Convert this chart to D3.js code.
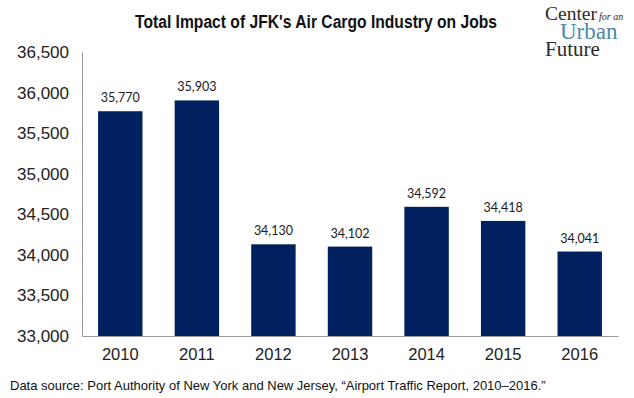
<!DOCTYPE html>
<html>
<head>
<meta charset="utf-8">
<script src="https://cdn.jsdelivr.net/npm/d3@7"></script>
<style>
  body { margin: 0; background: #fff; }
  svg { display: block; }
</style>
</head>
<body>
<div class="chart"></div>
<script>
// chart data
var years = ["2010", "2011", "2012", "2013", "2014", "2015", "2016"];
var jobs = [35770, 35903, 34130, 34102, 34592, 34418, 34041];
var yTicks = [33000, 33500, 34000, 34500, 35000, 35500, 36000, 36500];

var title = "Total Impact of JFK's Air Cargo Industry on Jobs";
var source = "Data source: Port Authority of New York and New Jersey, \u201cAirport Traffic Report, 2010\u20132016.\u201d";

var W = 634, H = 398;
var margin = {top: 52, right: 16, bottom: 62, left: 82},
    width = W - margin.left - margin.right,
    height = H - margin.top - margin.bottom;

var data = years.map(function(y, i) { return {year: y, value: jobs[i]}; });

var svg = d3.select(".chart").append("svg")
    .attr("width", W)
    .attr("height", H);

var g = svg.append("g")
    .attr("transform", "translate(" + margin.left + "," + margin.top + ")");

var x = d3.scaleBand().domain(years).range([0, width]).paddingInner(0.42).paddingOuter(0.21);
var y = d3.scaleLinear().domain([33000, 36500]).range([height, 0]);

// bars
g.selectAll(".bar")
    .data(data)
  .enter().append("rect")
    .attr("class", "bar")
    .attr("x", function(d) { return x(d.year); })
    .attr("width", x.bandwidth())
    .attr("y", function(d) { return y(d.value); })
    .attr("height", function(d) { return height - y(d.value); })
    .attr("fill", "#002060");

// value labels
g.selectAll(".lbl")
    .data(data)
  .enter().append("text")
    .attr("class", "lbl")
    .attr("x", function(d) { return x(d.year) + x.bandwidth() / 2; })
    .attr("y", function(d) { return y(d.value) - 9; })
    .attr("text-anchor", "middle")
    .style("font-family", "Lato, 'Open Sans', sans-serif")
    .style("font-size", "12.5px")
    .style("fill", "#1a1a1a")
    .text(function(d) { return d3.format(",")(d.value); });

// y axis
var yAxis = g.append("g")
    .call(d3.axisLeft(y).tickValues(yTicks).tickFormat(d3.format(",")).tickSize(0).tickPadding(13));
yAxis.select(".domain").attr("stroke", "#9a9a9a");
yAxis.selectAll("text")
    .style("font-family", "'Liberation Sans', Arial, sans-serif")
    .style("font-size", "17px")
    .style("fill", "#222");

// x axis
var xAxis = g.append("g")
    .attr("transform", "translate(0," + height + ")")
    .call(d3.axisBottom(x).tickSize(0).tickPadding(12));
xAxis.select(".domain").attr("stroke", "#9a9a9a");
xAxis.selectAll("text")
    .style("font-family", "'Liberation Sans', Arial, sans-serif")
    .style("font-size", "16.5px")
    .style("fill", "#222");

// title (condensed look)
svg.append("text")
    .attr("x", 135)
    .attr("y", 28)
    .attr("textLength", 362)
    .attr("lengthAdjust", "spacingAndGlyphs")
    .style("font-family", "'Liberation Sans', Arial, sans-serif")
    .style("font-weight", "bold")
    .style("font-size", "18px")
    .style("fill", "#111")
    .text(title);

// source note
svg.append("text")
    .attr("x", 10)
    .attr("y", 390)
    .style("font-family", "'Liberation Sans', Arial, sans-serif")
    .style("font-size", "13px")
    .style("fill", "#111")
    .text(source);

// logo, one text block with stacked lines
var logo = svg.append("text")
    .style("font-family", "'Liberation Serif', 'DejaVu Serif', serif")
    .style("fill", "#2a2a2a");
logo.append("tspan").attr("x", 545).attr("y", 20).style("font-size", "19.5px").text("Center");
logo.append("tspan").attr("x", 599).attr("y", 20).style("font-size", "10px").style("font-style", "italic").text("for an");
logo.append("tspan").attr("x", 560).attr("y", 39).style("font-size", "23px").style("fill", "#4a8aa8").text("Urban");
logo.append("tspan").attr("x", 545).attr("y", 56).style("font-size", "21px").text("Future");
</script>
</body>
</html>
